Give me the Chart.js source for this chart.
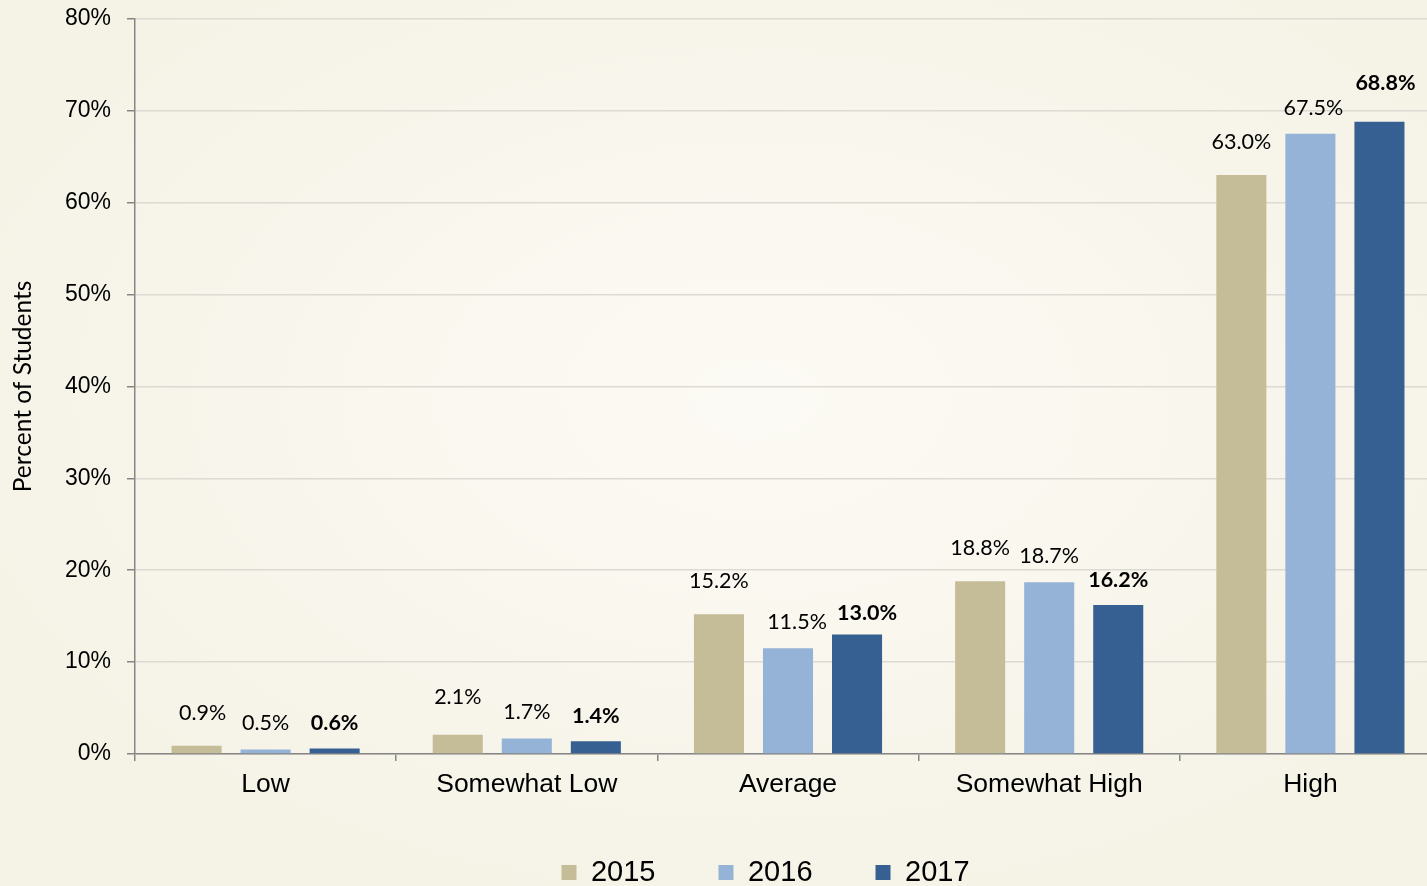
<!DOCTYPE html>
<html>
<head>
<meta charset="utf-8">
<script src="https://cdn.jsdelivr.net/npm/chart.js@4.4.1/dist/chart.umd.min.js"></script>
<style>
  html, body { margin: 0; padding: 0; width: 1427px; height: 886px; overflow: hidden;
    background: radial-gradient(ellipse 60% 60% at 53% 45%, #fcfaf4 0%, #f9f7ee 45%, #f5f2e6 100%); }
  #wrap { position: absolute; left: 0; top: -11px; width: 1441px; height: 917px; }
</style>
</head>
<body>
<div id="wrap"><canvas id="c"></canvas></div>
<script>
const categories = ["Low", "Somewhat Low", "Average", "Somewhat High", "High"];
const years = ["2015", "2016", "2017"];
const values2015 = [0.9, 2.1, 15.2, 18.8, 63.0];
const values2016 = [0.5, 1.7, 11.5, 18.7, 67.5];
const values2017 = [0.6, 1.4, 13.0, 16.2, 68.8];
const yTicks = [0, 10, 20, 30, 40, 50, 60, 70, 80];

const colors = ["#c4bd97", "#95b3d7", "#366092"];
// label styling: vertical offset above bar (px) per series, with small per-point nudges
const labelLift = [33, 26, 25];
const labelNudge = { "0-0": [6, 0], "0-1": [0, 5], "1-2": [9, 0], "2-2": [10, -4], "1-4": [3, 0], "2-4": [6, 14] };

const dataLabels = {
  id: "dataLabels",
  afterDatasetsDraw(chart) {
    const ctx = chart.ctx;
    ctx.save();
    ctx.textAlign = "center";
    ctx.textBaseline = "middle";
    ctx.fillStyle = "#000";
    chart.data.datasets.forEach((ds, di) => {
      const meta = chart.getDatasetMeta(di);
      ctx.font = (di === 2 ? "bold " : "") + "21.5px Lato";
      meta.data.forEach((bar, i) => {
        const n = labelNudge[di + "-" + i] || [0, 0];
        ctx.fillText(ds.data[i].toFixed(1) + "%", bar.x + n[0], bar.y - labelLift[di] - n[1]);
      });
    });
    ctx.restore();
  }
};

const legendShift = {
  id: "legendShift",
  afterLayout(chart) {
    const lg = chart.legend;
    if (lg) { lg.left += 45; lg.right += 45; lg.top -= 9; lg.bottom -= 9; }
  }
};

new Chart(document.getElementById("c"), {
  type: "bar",
  data: {
    labels: categories,
    datasets: [
      { label: years[0], data: values2015, backgroundColor: colors[0] },
      { label: years[1], data: values2016, backgroundColor: colors[1] },
      { label: years[2], data: values2017, backgroundColor: colors[2] }
    ]
  },
  options: {
    responsive: true,
    maintainAspectRatio: false,
    animation: false,
    devicePixelRatio: 1,
    layout: { padding: { top: 6, right: 0, left: 0, bottom: 0 } },
    datasets: { bar: { categoryPercentage: 0.793, barPercentage: 0.725 } },
    scales: {
      x: {
        offset: true,
        grid: { display: true, offset: true, drawOnChartArea: false, drawTicks: true,
                tickLength: 7, tickColor: "#868686", lineWidth: 1.5 },
        border: { color: "#868686", width: 1.5 },
        ticks: { color: "#000", font: { family: "Liberation Sans", size: 26.5 }, padding: 8 },
        afterFit(s) { s.height = 50; }
      },
      y: {
        min: 0, max: 80,
        afterBuildTicks(s) { s.ticks = yTicks.map(v => ({ value: v })); },
        grid: { color: "#dcdad2", lineWidth: 1.5, tickLength: 8, tickColor: "#868686" },
        border: { color: "#868686", width: 1.5 },
        ticks: { color: "#000", font: { family: "Liberation Sans", size: 23 }, padding: 16,
                 callback: v => v + "%" },
        title: { display: true, text: "Percent of Students", color: "#000",
                 font: { family: "Lato", size: 24.5 }, padding: { top: 8, bottom: 0 } },
        afterFit(s) { s.width = 135; }
      }
    },
    plugins: {
      legend: {
        position: "bottom",
        labels: { color: "#000", font: { family: "Liberation Sans", size: 29 },
                  boxWidth: 15, boxHeight: 15, padding: 63 }
      },
      tooltip: { enabled: false }
    }
  },
  plugins: [dataLabels, legendShift]
});
</script>
</body>
</html>
